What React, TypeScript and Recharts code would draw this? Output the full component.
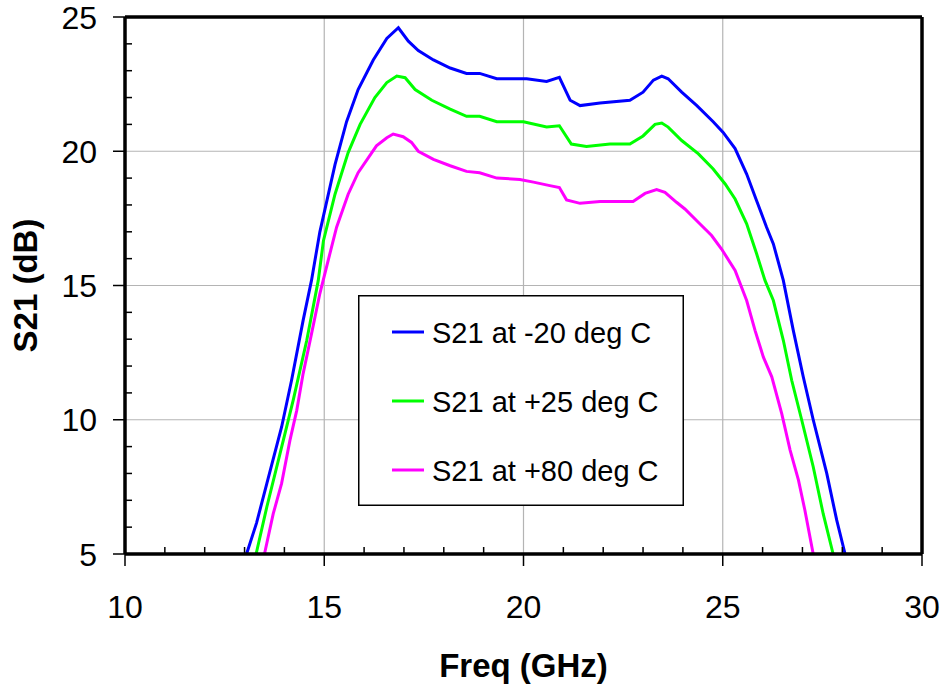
import {
  CartesianGrid,
  Legend,
  Line,
  LineChart,
  ReferenceLine,
  XAxis,
  YAxis,
} from 'recharts';

const FONT = '"Liberation Sans", Arial, sans-serif';

// -20 deg C
const coldFreq = [
  13.05, 13.3, 13.56, 13.93, 14.18, 14.47, 14.68, 14.89, 15.27, 15.56, 15.85,
  16.23, 16.57, 16.86, 17.11, 17.36, 17.74, 18.16, 18.57, 18.9, 19.33, 19.74,
  20.08, 20.58, 20.9, 21.17, 21.42, 21.92, 22.67, 23.0, 23.26, 23.47, 23.63,
  23.97, 24.35, 24.76, 25.01, 25.31, 25.6, 25.85, 26.1, 26.27, 26.52, 26.77,
  27.02, 27.27, 27.61, 27.86, 28.07,
];
const coldDb = [
  5, 6.15, 7.63, 9.73, 11.47, 13.7, 15.19, 17.0, 19.5, 21.1, 22.3, 23.4, 24.2,
  24.6, 24.1, 23.75, 23.4, 23.1, 22.9, 22.9, 22.7, 22.7, 22.7, 22.6, 22.75,
  21.9, 21.7, 21.8, 21.9, 22.2, 22.65, 22.8, 22.7, 22.2, 21.7, 21.1, 20.7, 20.1,
  19.15, 18.16, 17.17, 16.55, 15.19, 13.33, 11.6, 10.0, 8.0, 6.26, 5,
];

// +25 deg C
const roomFreq = [
  13.29, 13.56, 13.89, 14.22, 14.56, 14.85, 14.98, 15.27, 15.6, 15.9, 16.27,
  16.57, 16.82, 17.03, 17.28, 17.7, 18.16, 18.57, 18.9, 19.33, 20.0, 20.58,
  20.9, 21.2, 21.58, 22.17, 22.67, 23.0, 23.3, 23.47, 23.63, 23.97, 24.39,
  24.76, 25.06, 25.31, 25.6, 25.85, 26.06, 26.27, 26.52, 26.73, 26.98, 27.27,
  27.52, 27.77,
];
const roomDb = [
  5, 6.76, 8.74, 10.72, 12.95, 15.19, 16.67, 18.4, 19.95, 21.0, 22.0, 22.56,
  22.8, 22.74, 22.3, 21.9, 21.57, 21.3, 21.3, 21.1, 21.1, 20.9, 20.95, 20.27,
  20.18, 20.27, 20.27, 20.57, 21.0, 21.05, 20.9, 20.4, 19.9, 19.34, 18.78,
  18.22, 17.3, 16.18, 15.19, 14.44, 12.96, 11.47, 10.0, 8.25, 6.5, 5,
];

// +80 deg C
const hotFreq = [
  13.5, 13.72, 13.93, 14.14, 14.31, 14.47, 14.68, 14.89, 15.14, 15.31, 15.6,
  15.85, 16.31, 16.57, 16.73, 16.98, 17.19, 17.36, 17.74, 18.16, 18.57, 18.9,
  19.33, 19.91, 20.25, 20.66, 20.9, 21.08, 21.42, 21.92, 22.75, 23.05, 23.34,
  23.55, 23.84, 24.05, 24.43, 24.72, 24.97, 25.31, 25.6, 25.81, 26.02, 26.23,
  26.48, 26.69, 26.9, 27.06, 27.27,
];
const hotDb = [
  5, 6.5, 7.63, 9.24, 10.35, 11.72, 13.2, 14.7, 16.18, 17.17, 18.4, 19.2, 20.2,
  20.5, 20.64, 20.54, 20.33, 20.0, 19.7, 19.46, 19.25, 19.2, 19.0, 18.95, 18.85,
  18.72, 18.65, 18.19, 18.06, 18.13, 18.13, 18.43, 18.57, 18.47, 18.1, 17.85,
  17.29, 16.86, 16.36, 15.56, 14.44, 13.33, 12.33, 11.6, 10.23, 8.87, 7.75,
  6.64, 5,
];

const seriesNames = ['S21 at -20 deg C', 'S21 at +25 deg C', 'S21 at +80 deg C'];

const xTicks = [
  10, 11, 12, 13, 14, 15, 16, 17, 18, 19, 20, 21, 22, 23, 24, 25, 26, 27, 28,
  29, 30,
];
const yTicks = [
  5, 6, 7, 8, 9, 10, 11, 12, 13, 14, 15, 16, 17, 18, 19, 20, 21, 22, 23, 24, 25,
];
const xGrid = [15, 20, 25];
const yGrid = [10, 15, 20];

const toPoints = (freq: number[], db: number[]) =>
  freq.map((f, i) => ({ f, db: db[i] }));

const coldData = toPoints(coldFreq, coldDb);
const roomData = toPoints(roomFreq, roomDb);
const hotData = toPoints(hotFreq, hotDb);

const XTick = ({ x, y, payload }: any) => {
  const major = payload.value % 5 === 0;
  return (
    <g>
      {major ? (
        <line x1={x} y1={y} x2={x} y2={y + 12} stroke='#000' strokeWidth={1.5} />
      ) : (
        <line x1={x} y1={y} x2={x} y2={y - 7} stroke='#000' strokeWidth={1.5} />
      )}
      {major && (
        <text x={x} y={y + 64} textAnchor='middle' fontSize={32} fontFamily={FONT} fill='#000'>
          {payload.value}
        </text>
      )}
    </g>
  );
};

const YTick = ({ x, y, payload }: any) => {
  const major = payload.value % 5 === 0;
  return (
    <g>
      {major ? (
        <line x1={x - 12} y1={y} x2={x} y2={y} stroke='#000' strokeWidth={1.5} />
      ) : (
        <line x1={x} y1={y} x2={x + 7} y2={y} stroke='#000' strokeWidth={1.5} />
      )}
      {major && (
        <text x={x - 28} y={y + 11.5} textAnchor='end' fontSize={32} fontFamily={FONT} fill='#000'>
          {payload.value}
        </text>
      )}
    </g>
  );
};

const LegendBox = ({ payload }: any) => {
  // keep the series order of the original chart
  const items = [...(payload || [])].sort(
    (a: any, b: any) => seriesNames.indexOf(a.value) - seriesNames.indexOf(b.value),
  );
  return (
    <svg width={326} height={211}>
      <rect x={0.75} y={0.75} width={324.5} height={209.5} fill='#fff' stroke='#000' strokeWidth={1.5} />
      {items.map((p: any, i: number) => (
        <g key={p.value}>
          <line x1={34} x2={66} y1={37 + i * 69} y2={37 + i * 69} stroke={p.color} strokeWidth={3} />
          <text x={74} y={48 + i * 69} fontSize={29} fontFamily={FONT} fill='#000'>
            {p.value}
          </text>
        </g>
      ))}
    </svg>
  );
};

const App = () => {
  return (
    <div style={{ position: 'absolute', left: 0, top: 0, width: 946, height: 686, background: '#fff' }}>
      <LineChart
        width={946}
        height={686}
        margin={{ top: 17, right: 24, bottom: 0, left: 0 }}
      >
        {/* Grid */}
        <CartesianGrid
          stroke='#b4b4b4'
          strokeWidth={1.2}
          verticalValues={xGrid}
          horizontalValues={yGrid}
          syncWithTicks
        />

        {/* Axis */}
        <XAxis
          type='number'
          dataKey='f'
          domain={[10, 30]}
          ticks={xTicks}
          interval={0}
          height={132}
          tickSize={0}
          tickMargin={0}
          tickLine={false}
          axisLine={{ stroke: '#000', strokeWidth: 3.5 }}
          tick={<XTick />}
          label={({ viewBox }: any) => (
            <text
              x={viewBox.x + viewBox.width / 2}
              y={viewBox.y + 123}
              textAnchor='middle'
              fontSize={33}
              fontWeight='bold'
              fontFamily={FONT}
              fill='#000'
            >
              Freq (GHz)
            </text>
          )}
        />
        <YAxis
          type='number'
          domain={[5, 25]}
          ticks={yTicks}
          interval={0}
          width={125}
          tickSize={0}
          tickMargin={0}
          tickLine={false}
          axisLine={{ stroke: '#000', strokeWidth: 3.5 }}
          tick={<YTick />}
          label={({ viewBox }: any) => {
            const cy = viewBox.y + viewBox.height / 2;
            return (
              <text
                x={37}
                y={cy}
                transform={`rotate(-90 37 ${cy})`}
                textAnchor='middle'
                fontSize={33}
                fontWeight='bold'
                fontFamily={FONT}
                fill='#000'
              >
                S21 (dB)
              </text>
            );
          }}
        />

        {/* Frame */}
        <ReferenceLine y={25} stroke='#000' strokeWidth={3.5} />
        <ReferenceLine x={30} stroke='#000' strokeWidth={3.5} />

        {/* Legend */}
        <Legend
          layout='vertical'
          align='center'
          verticalAlign='middle'
          itemSorter={null}
          content={<LegendBox />}
          wrapperStyle={{ position: 'absolute', left: 358, top: 295, width: 326, height: 211 }}
        />

        {/* Lines */}
        <Line
          data={coldData}
          dataKey='db'
          name={seriesNames[0]}
          stroke='#0000ff'
          strokeWidth={3}
          dot={false}
          type='linear'
          isAnimationActive={false}
        />
        <Line
          data={roomData}
          dataKey='db'
          name={seriesNames[1]}
          stroke='#00ff00'
          strokeWidth={3}
          dot={false}
          type='linear'
          isAnimationActive={false}
        />
        <Line
          data={hotData}
          dataKey='db'
          name={seriesNames[2]}
          stroke='#ff00ff'
          strokeWidth={3}
          dot={false}
          type='linear'
          isAnimationActive={false}
        />
      </LineChart>
    </div>
  );
};

export default App;
